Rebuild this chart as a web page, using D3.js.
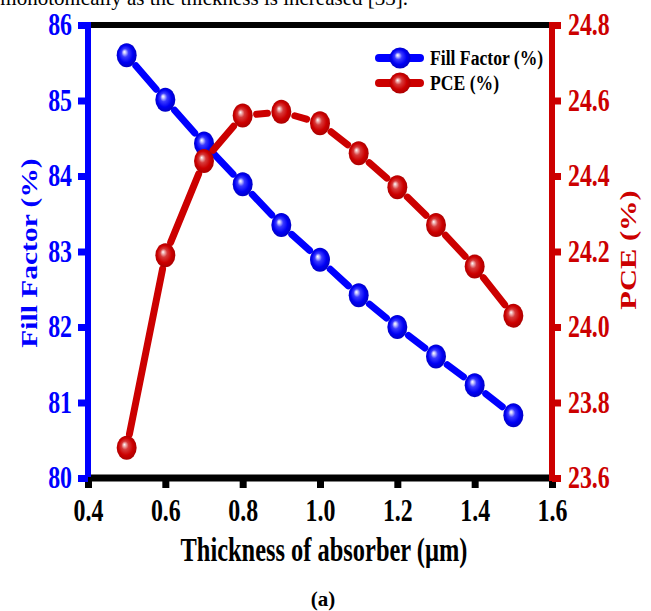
<!DOCTYPE html>
<html>
<head>
<meta charset="utf-8">
<script src="https://cdn.jsdelivr.net/npm/d3@7/dist/d3.min.js"></script>
<style>
  html, body { margin: 0; padding: 0; background: #fff; }
  svg { display: block; }
  text { font-family: "Liberation Serif", "Times New Roman", serif; }
</style>
</head>
<body>
<svg id="chart" width="651" height="611"></svg>
<script>
// Absorber thickness sweep (µm)
const thickness = [0.5, 0.6, 0.7, 0.8, 0.9, 1.0, 1.1, 1.2, 1.3, 1.4, 1.5];
// Fill factor (%) — left axis
const fillFactor = [85.60, 85.01, 84.43, 83.89, 83.35, 82.89, 82.42, 82.00, 81.61, 81.23, 80.83];
// Power conversion efficiency (%) — right axis
const pce = [23.68, 24.19, 24.44, 24.56, 24.57, 24.54, 24.46, 24.37, 24.27, 24.16, 24.03];

const xTicks = [0.4, 0.6, 0.8, 1.0, 1.2, 1.4, 1.6];
const ffTicks = [80, 81, 82, 83, 84, 85, 86];
const pceTicks = [23.6, 23.8, 24.0, 24.2, 24.4, 24.6, 24.8];

const seriesNames = ["Fill Factor (%)", "PCE (%)"];
const xTitle = "Thickness of absorber (µm)";
const panelLabel = "(a)";
const runningText = "monotonically as the thickness is increased [33].";

const BLUE = "#0000ff", RED = "#cc0000";
const plotLeft = 88, plotRight = 552, plotTop = 25, plotBottom = 478;
const SX = 0.77; // horizontal squeeze of the figure lettering

const svg = d3.select("#chart");

const x = d3.scaleLinear().domain([0.4, 1.6]).range([plotLeft, plotRight]);
const yFF = d3.scaleLinear().domain([80, 86]).range([plotBottom, plotTop]);
const yPCE = d3.scaleLinear().domain([23.6, 24.8]).range([plotBottom, plotTop]);

// Sphere-like marker fills
const defs = svg.append("defs");
function sphere(id, stops) {
  const g = defs.append("radialGradient").attr("id", id)
    .attr("cx", "0.5").attr("cy", "0.5").attr("r", "0.55")
    .attr("fx", "0.38").attr("fy", "0.36");
  stops.forEach(([o, c]) => g.append("stop").attr("offset", o).attr("stop-color", c));
}
sphere("ballBlue", [[0, "#ffffff"], [0.12, "#c4c4ff"], [0.32, "#3a3aff"], [0.65, "#0000f4"], [1, "#0000b8"]]);
sphere("ballRed", [[0, "#ffffff"], [0.12, "#f0b4b4"], [0.32, "#d63a3a"], [0.65, "#cc0000"], [1, "#a20000"]]);

// Running text of the page above the figure
svg.append("text")
  .attr("x", 408).attr("y", 5)
  .attr("text-anchor", "end")
  .style("font-size", "21px")
  .attr("fill", "#000")
  .text(runningText);

// Frame: top black edge
svg.append("line").attr("x1", plotLeft - 3).attr("x2", plotRight + 3).attr("y1", plotTop).attr("y2", plotTop)
  .attr("stroke", "#000").attr("stroke-width", 6);

function squeezeText(sel) {
  sel.selectAll(".tick text").each(function () {
    const t = d3.select(this);
    const tx = +t.attr("x") || 0, ty = +t.attr("y") || 0;
    t.attr("x", 0).attr("y", 0)
      .attr("transform", `translate(${tx},${ty}) scale(${SX},1)`);
  });
}

function styleAxis(g, color) {
  g.select(".domain").remove();
  g.selectAll(".tick line").attr("stroke", color).attr("stroke-width", 7);
  g.selectAll(".tick text")
    .attr("fill", color)
    .style("font-size", "31px")
    .style("font-weight", "bold")
    .style("font-family", "'Liberation Serif', 'Times New Roman', serif");
  squeezeText(g);
}

// Bottom axis
const gx = svg.append("g").attr("transform", `translate(0,${plotBottom})`)
  .call(d3.axisBottom(x).tickValues(xTicks).tickFormat(d3.format(".1f")).tickSize(10).tickPadding(11));
styleAxis(gx, "#000");
svg.append("line").attr("x1", plotLeft - 3).attr("x2", plotRight + 3).attr("y1", plotBottom).attr("y2", plotBottom)
  .attr("stroke", "#000").attr("stroke-width", 7);

// Left axis (fill factor)
const gl = svg.append("g").attr("transform", `translate(${plotLeft},0)`)
  .call(d3.axisLeft(yFF).tickValues(ffTicks).tickFormat(d3.format("d")).tickSize(10).tickPadding(6));
styleAxis(gl, BLUE);
svg.append("line").attr("x1", plotLeft).attr("x2", plotLeft).attr("y1", plotTop - 3).attr("y2", plotBottom - 1)
  .attr("stroke", BLUE).attr("stroke-width", 6);

// Right axis (PCE)
const gr = svg.append("g").attr("transform", `translate(${plotRight},0)`)
  .call(d3.axisRight(yPCE).tickValues(pceTicks).tickFormat(d3.format(".1f")).tickSize(9).tickPadding(7));
styleAxis(gr, RED);
svg.append("line").attr("x1", plotRight).attr("x2", plotRight).attr("y1", plotTop - 3).attr("y2", plotBottom + 3)
  .attr("stroke", RED).attr("stroke-width", 6);

// Series: connecting segments with a gap around each symbol, then symbols
const GAP = 14;
function drawSeries(values, yScale, color, fillId) {
  const pts = thickness.map((t, i) => [x(t), yScale(values[i])]);
  const g = svg.append("g");
  for (let i = 0; i < pts.length - 1; i++) {
    const [x1, y1] = pts[i], [x2, y2] = pts[i + 1];
    const dx = x2 - x1, dy = y2 - y1, len = Math.hypot(dx, dy);
    if (len <= 2 * GAP) continue;
    const ux = dx / len, uy = dy / len;
    g.append("line")
      .attr("x1", x1 + ux * GAP).attr("y1", y1 + uy * GAP)
      .attr("x2", x2 - ux * GAP).attr("y2", y2 - uy * GAP)
      .attr("stroke", color).attr("stroke-width", 7).attr("stroke-linecap", "round");
  }
  g.selectAll("ellipse").data(pts).join("ellipse")
    .attr("cx", d => d[0]).attr("cy", d => d[1])
    .attr("rx", 10).attr("ry", 12)
    .attr("fill", `url(#${fillId})`);
}
drawSeries(fillFactor, yFF, BLUE, "ballBlue");
drawSeries(pce, yPCE, RED, "ballRed");

// Legend
const legend = [
  { name: seriesNames[0], color: BLUE, fill: "ballBlue", y: 58 },
  { name: seriesNames[1], color: RED, fill: "ballRed", y: 83 }
];
legend.forEach(d => {
  svg.append("line").attr("x1", 379).attr("x2", 420).attr("y1", d.y).attr("y2", d.y)
    .attr("stroke", d.color).attr("stroke-width", 8).attr("stroke-linecap", "round");
  svg.append("ellipse").attr("cx", 400).attr("cy", d.y).attr("rx", 10.5).attr("ry", 10.5)
    .attr("fill", `url(#${d.fill})`);
  svg.append("text")
    .attr("transform", `translate(430,${d.y + 6.5}) scale(0.84,1)`)
    .style("font-size", "21px").style("font-weight", "bold")
    .attr("fill", "#000")
    .text(d.name);
});

// Axis titles
svg.append("text")
  .attr("transform", "translate(37,253) rotate(-90) scale(1,0.78)")
  .attr("text-anchor", "middle")
  .style("font-size", "29.5px").style("font-weight", "bold")
  .attr("fill", BLUE)
  .text(seriesNames[0]);

svg.append("text")
  .attr("transform", "translate(636,250) rotate(-90) scale(1,0.78)")
  .attr("text-anchor", "middle")
  .style("font-size", "30.5px").style("font-weight", "bold")
  .attr("fill", RED)
  .text(seriesNames[1]);

svg.append("text")
  .attr("transform", "translate(324,561) scale(0.74,1)")
  .attr("text-anchor", "middle")
  .style("font-size", "33px").style("font-weight", "bold")
  .attr("fill", "#000")
  .text(xTitle);

svg.append("text")
  .attr("x", 323).attr("y", 606)
  .attr("text-anchor", "middle")
  .style("font-size", "21px").style("font-weight", "bold")
  .attr("fill", "#000")
  .text(panelLabel);
</script>
</body>
</html>
